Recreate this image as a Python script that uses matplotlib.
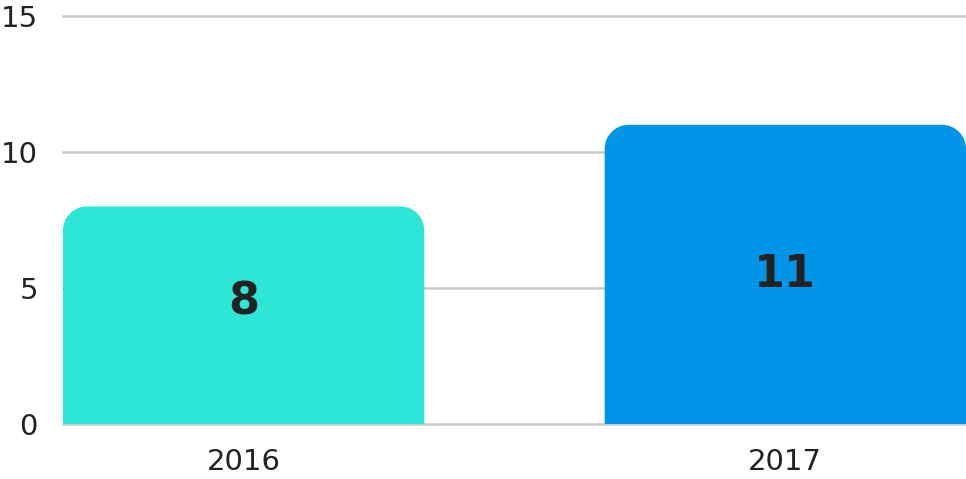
import numpy as np
import matplotlib
matplotlib.use('Agg')
import matplotlib.pyplot as plt
from matplotlib.path import Path
from matplotlib.patches import PathPatch

# Data
years = ['2016', '2017']
values = [8, 11]
colors = ['#2ee6d6', '#0095e9']
yticks = [0, 5, 10, 15]

plt.rcParams['font.family'] = ['DejaVu Sans']

fig = plt.figure(figsize=(9.66, 4.79), dpi=100)
ax = fig.add_axes([0.0652, 0.1148, 0.9348, 0.8518])

x = np.arange(len(years))
width = 0.667
ax.set_xlim(-width / 2, len(years) - 1 + width / 2)
ax.set_ylim(0, 15)

# pixel scale for corner radius
fig.canvas.draw()
bbox = ax.get_window_extent()
px_x = bbox.width / (ax.get_xlim()[1] - ax.get_xlim()[0])
px_y = bbox.height / (ax.get_ylim()[1] - ax.get_ylim()[0])
r_px = 24
rx, ry = r_px / px_x, r_px / px_y
k = 0.5523


def rounded_bar(x0, w, h):
    x1 = x0 + w
    verts = [
        (x0, 0), (x0, h - ry),
        (x0, h - ry + k * ry), (x0 + rx - k * rx, h), (x0 + rx, h),
        (x1 - rx, h),
        (x1 - rx + k * rx, h), (x1, h - ry + k * ry), (x1, h - ry),
        (x1, 0), (x0, 0),
    ]
    codes = [Path.MOVETO, Path.LINETO,
             Path.CURVE4, Path.CURVE4, Path.CURVE4,
             Path.LINETO,
             Path.CURVE4, Path.CURVE4, Path.CURVE4,
             Path.LINETO, Path.CLOSEPOLY]
    return Path(verts, codes)


for xi, v, c in zip(x, values, colors):
    ax.add_patch(PathPatch(rounded_bar(xi - width / 2, width, v),
                           facecolor=c, edgecolor='none', zorder=3))

# value labels
label_offsets = [0.5, 0.0]
for xi, v, off in zip(x, values, label_offsets):
    ax.text(xi, v / 2 + off, str(v), ha='center', va='center',
            fontsize=32, fontweight='bold', color='#222222', zorder=4)

ax.set_yticks(yticks)
ax.set_yticklabels([str(t) for t in yticks])
ax.set_xticks(x)
ax.set_xticklabels(years)
ax.grid(axis='y', color='#c8c8c8', linewidth=1.8, zorder=0)
for gl in ax.get_ygridlines():
    gl.set_clip_on(False)
ax.set_axisbelow(True)
for s in ax.spines.values():
    s.set_visible(False)
ax.tick_params(axis='both', length=0, labelsize=21, colors='#222222')
ax.tick_params(axis='y', pad=18)
ax.tick_params(axis='x', pad=17)

fig.savefig('out.png', dpi=100)
